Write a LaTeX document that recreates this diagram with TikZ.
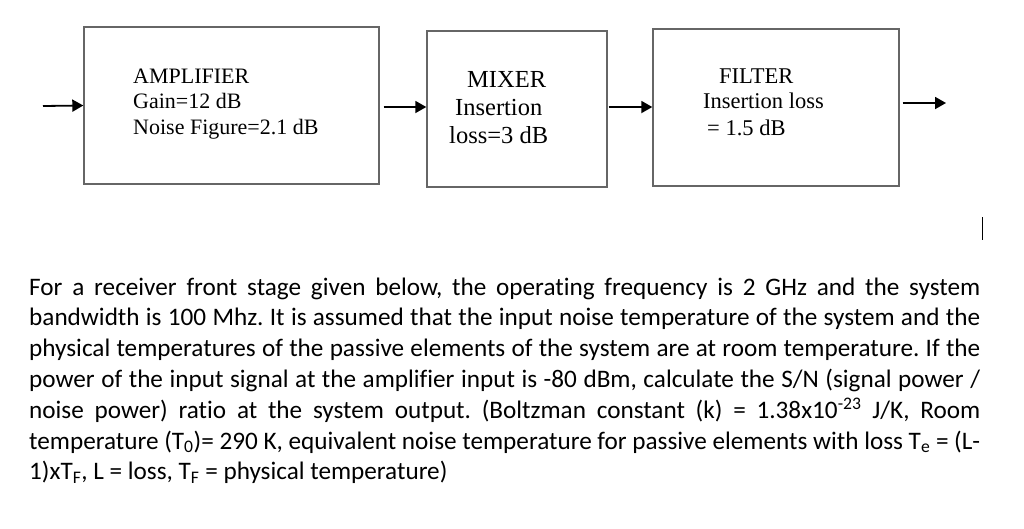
\documentclass[tikz,border=0pt]{standalone}
\usepackage{fontspec}
\usetikzlibrary{arrows.meta}
\newfontfamily\tnr{Liberation Serif}
\newfontfamily\calibri[Ligatures={NoCommon}]{Carlito}
\frenchspacing
\tikzset{
  blk/.style={draw=black!60, line width=1.4pt, rectangle, inner sep=0pt},
  arr/.style={draw=black, line width=1.8pt, -{Triangle[length=11pt,width=12pt]}},
  lbl/.style={anchor=base west, inner sep=0pt, text=black},
  para/.style={anchor=base west, inner sep=0pt, text=black, font=\calibri\fontsize{25.2}{30.8}\selectfont}
}
\begin{document}
\begin{tikzpicture}[x=1pt,y=-1pt]
\useasboundingbox (0,0) rectangle (1024,528);
% blocks
\node[blk, minimum width=295pt, minimum height=157pt] (amp) at (231.5,105.5) {};
\node[blk, minimum width=180pt, minimum height=156pt] (mix) at (517,109) {};
\node[blk, minimum width=246pt, minimum height=157pt] (fil) at (776,107.5) {};
% block texts
\node[lbl, font=\tnr\fontsize{22}{25}\selectfont] (a1) at (133,83) {AMPLIFIER};
\node[lbl, font=\tnr\fontsize{22}{25}\selectfont] (a2) at (133,108) {Gain=12 dB};
\node[lbl, font=\tnr\fontsize{22}{25}\selectfont] (a3) at (133,134) {Noise Figure=2.1 dB};
\node[lbl, font=\tnr\fontsize{24.5}{28}\selectfont] (m1) at (467,87) {MIXER};
\node[lbl, font=\tnr\fontsize{24.5}{28}\selectfont] (m2) at (455,115) {Insertion};
\node[lbl, font=\tnr\fontsize{24.5}{28}\selectfont] (m3) at (449,143) {loss=3 dB};
\node[lbl, font=\tnr\fontsize{22.5}{26}\selectfont] (f1) at (719,83) {FILTER};
\node[lbl, font=\tnr\fontsize{22.5}{26}\selectfont] (f2) at (703,108) {Insertion loss};
\node[lbl, font=\tnr\fontsize{22.5}{26}\selectfont] (f3) at (707,135) {= 1.5 dB};
% connectors
\coordinate (in) at (43,106);
\coordinate (out) at (946,103);
\draw[arr] (in) -- (amp.west);
\draw[arr] ([xshift=4pt,yshift=-1.5pt]amp.east) -- ([yshift=2pt]mix.west);
\draw[arr] ([xshift=1pt,yshift=2pt]mix.east) -- ([yshift=0.5pt]fil.west);
\draw[arr] ([xshift=3pt,yshift=4.5pt]fil.east) -- (out);
% cursor bar
\coordinate (c1) at (982,217);
\coordinate (c2) at (982,240);
\draw[line width=1pt, black] (c1) -- (c2);
% paragraph
\node[para] (l1) at (29,295) {\makebox[951pt][s]{For a receiver front stage given below, the operating frequency is 2 GHz and the system}};
\node[para] (l2) at (29,325.8) {\makebox[951pt][s]{bandwidth is 100 Mhz. It is assumed that the input noise temperature of the system and the}};
\node[para] (l3) at (29,356.6) {\makebox[951pt][s]{physical temperatures of the passive elements of the system are at room temperature. If the}};
\node[para] (l4) at (29,387.4) {\makebox[951pt][s]{power of the input signal at the amplifier input is -80 dBm, calculate the S/N (signal power /}};
\node[para] (l5) at (29,418.2) {\makebox[951pt][s]{noise power) ratio at the system output. (Boltzman constant (k) = 1.38x10\textsuperscript{-23} J/K, Room}};
\node[para] (l6) at (29,449) {\makebox[951pt][s]{temperature (T\textsubscript{0})= 290 K, equivalent noise temperature for passive elements with loss T\textsubscript{e} = (L-}};
\node[para] (l7) at (29,479.8) {1)xT\textsubscript{F}, L = loss, T\textsubscript{F} = physical temperature)};
\end{tikzpicture}
\end{document}
